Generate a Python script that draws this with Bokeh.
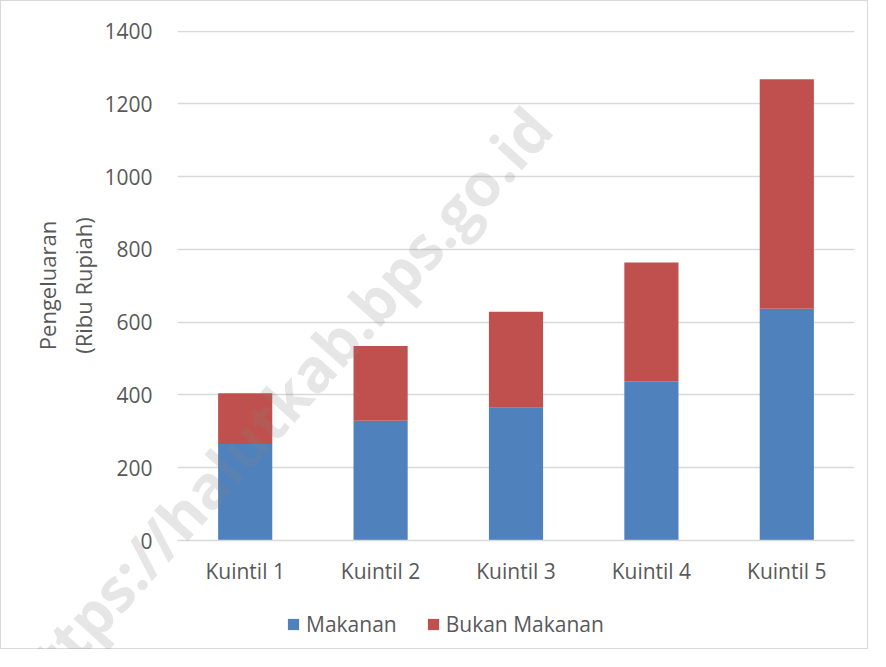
from bokeh.plotting import figure
from bokeh.models import Range1d, FactorRange, Legend, LegendItem, SingleIntervalTicker, Div
from bokeh.layouts import column
from bokeh.embed import file_html
from bokeh.resources import INLINE

categories = ["Kuintil 1", "Kuintil 2", "Kuintil 3", "Kuintil 4", "Kuintil 5"]
makanan = [265, 329, 365, 438, 637]
bukan_makanan = [140, 206, 264, 326, 631]
series = ["Makanan", "Bukan Makanan"]
colors = ["#4F81BD", "#C0504D"]
watermark = "https://halutkab.bps.go.id"

FONT = "Open Sans"
TXT = "#595959"
GRID = "#d9d9d9"

# ---------------- main chart ----------------
p = figure(
    width=868, height=649,
    x_range=FactorRange(*categories, range_padding=0),
    y_range=Range1d(0, 1402),
    output_backend="svg", toolbar_location=None,
    min_border_left=176, min_border_right=15, min_border_top=29, min_border_bottom=110,
)
p.styles = {"border": "1px solid #d9d9d9"}
p.outline_line_color = None
p.background_fill_color = "white"

data = {"cat": categories, "Makanan": makanan, "Bukan Makanan": bukan_makanan}
p.vbar_stack(series, x="cat", width=0.4, color=colors, line_color=None, source=data)

p.yaxis.ticker = SingleIntervalTicker(interval=200)
p.ygrid.grid_line_color = GRID
p.ygrid.grid_line_width = 1.3
p.xgrid.grid_line_color = None

for ax in (p.xaxis, p.yaxis):
    ax.major_tick_line_color = None
    ax.minor_tick_line_color = None
    ax.major_label_text_font = FONT
    ax.major_label_text_font_size = "21px"
    ax.major_label_text_color = TXT
p.yaxis.axis_line_color = None
p.xaxis.axis_line_color = GRID
p.xaxis.axis_line_width = 1.3
p.yaxis.major_label_standoff = 19
p.xaxis.major_label_standoff = 10

p.yaxis.axis_label = "Pengeluaran\n(Ribu Rupiah)"
p.yaxis.axis_label_text_font = FONT
p.yaxis.axis_label_text_font_size = "22px"
p.yaxis.axis_label_text_font_style = "normal"
p.yaxis.axis_label_text_color = TXT
p.yaxis.axis_label_standoff = 3

# ---------------- transparent overlay carrying the legend ----------------
w = figure(
    width=870, height=651, x_range=Range1d(0, 1), y_range=Range1d(0, 1),
    output_backend="svg", toolbar_location=None,
    x_axis_location=None, y_axis_location=None,
    min_border=0, margin=(-651, 0, 0, 0),
)
w.grid.visible = False
w.outline_line_color = None
w.background_fill_alpha = 0
w.border_fill_alpha = 0
keys = []
for s, c in zip(series, colors):
    # zero-size bar: only used to give the legend its colour key
    keys.append(w.vbar(x=[0.5], top=[0], bottom=[0], width=0, color=c, line_color=None))

legend = Legend(
    items=[LegendItem(label=s, renderers=[r]) for s, r in zip(series, keys)],
    orientation="horizontal", location=(110, 11),
    glyph_width=14, glyph_height=14, label_standoff=6, spacing=29,
    padding=0, margin=0, border_line_color=None, background_fill_alpha=0,
    label_text_font=FONT, label_text_font_size="21px", label_text_color=TXT,
)
w.add_layout(legend, "center")

# ---------------- watermark overlay ----------------
wm_html = (
    '<div style="position:relative;width:870px;height:651px;overflow:hidden;">'
    '<div style="position:absolute;right:314px;top:81px;white-space:nowrap;'
    "font-family:'Open Sans';font-weight:bold;font-size:60px;line-height:60px;"
    'color:rgba(128,128,128,0.2);transform-origin:100% 53px;transform:rotate(-48deg);">'
    + watermark + "</div></div>"
)
d = Div(text=wm_html, width=870, height=651, margin=(-651, 0, 0, 0))

layout = column(p, w, d, spacing=0)
open("out.html", "w").write(file_html(layout, INLINE))
